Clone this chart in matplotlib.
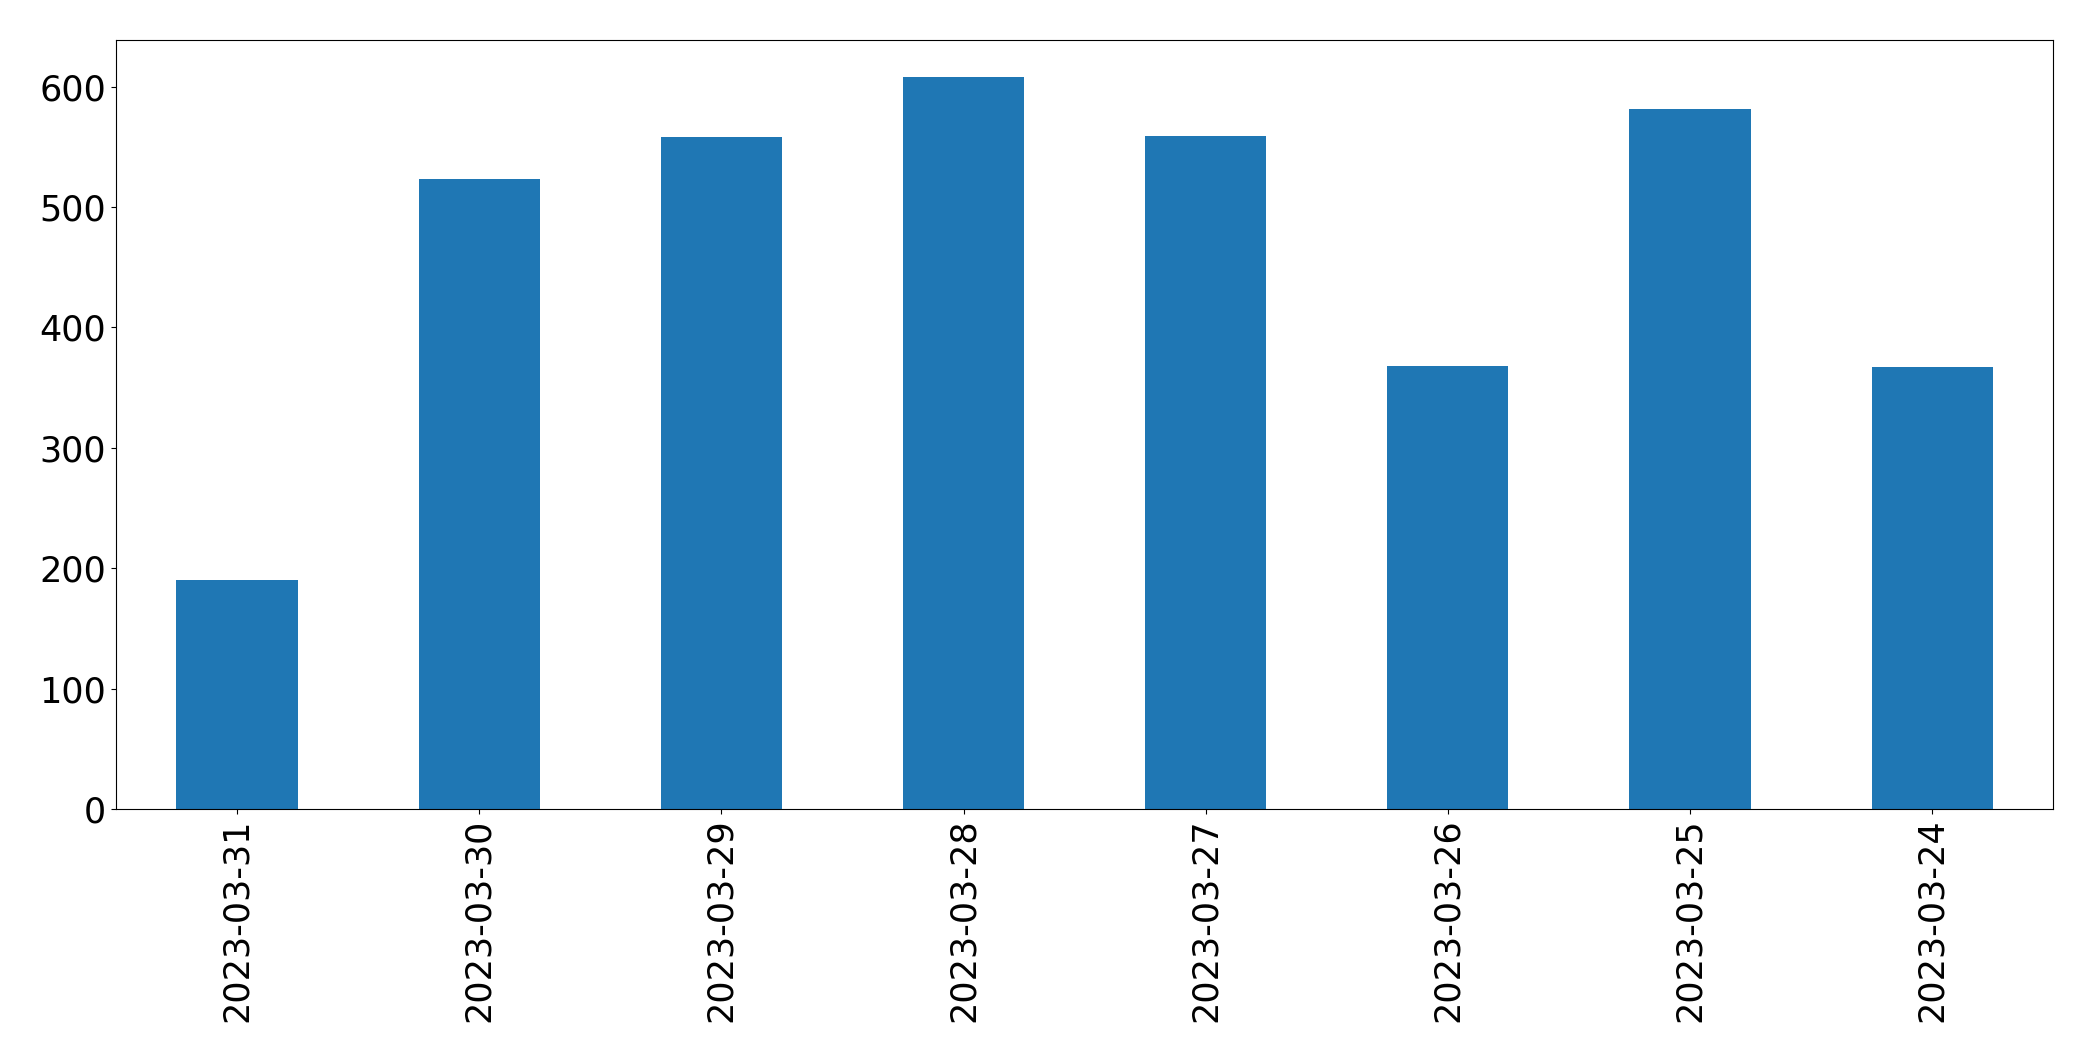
import matplotlib
matplotlib.use("Agg")
import matplotlib.pyplot as plt

dates = ["2023-03-31", "2023-03-30", "2023-03-29", "2023-03-28",
         "2023-03-27", "2023-03-26", "2023-03-25", "2023-03-24"]
counts = [190, 523, 558, 608, 559, 368, 581, 367]

fig = plt.figure(figsize=(20.93, 10.61), dpi=100)
ax = fig.add_axes([0.0554, 0.2375, 0.9256, 0.7245])
x = range(len(dates))
ax.bar(x, counts, width=0.5, color="#1f77b4")
ax.set_xlim(-0.5, len(dates) - 0.5)
ax.set_xticks(list(x))
ax.set_xticklabels(dates, rotation=90)
ax.tick_params(labelsize=25.2)
fig.savefig("out.png", dpi=100)
